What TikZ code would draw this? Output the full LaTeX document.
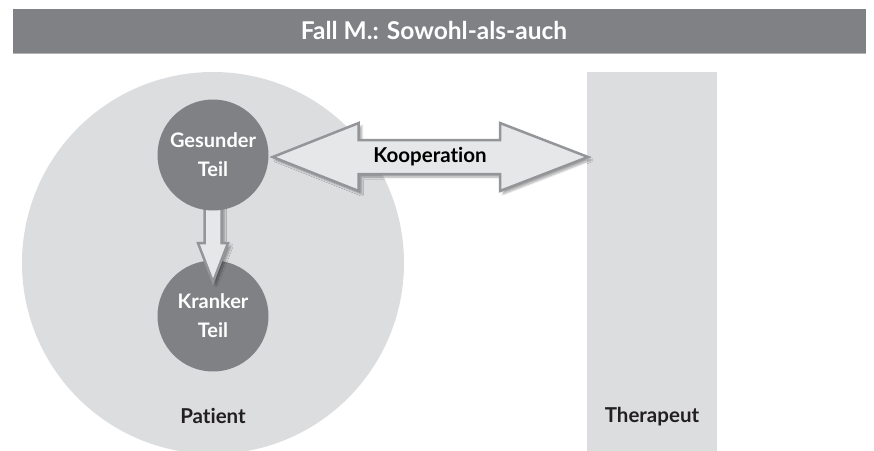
\documentclass[tikz,border=0pt]{standalone}
\usepackage{fontspec}
\setmainfont{Lato}[Ligatures=NoCommon]
\usetikzlibrary{calc,shadows.blur}
\definecolor{bargray}{HTML}{808184}
\definecolor{lightbg}{HTML}{DCDDDF}
\definecolor{arrowfill}{HTML}{E6E7E8}
\definecolor{arrowline}{HTML}{949598}
\definecolor{txtdark}{HTML}{231F20}
\tikzset{
  part/.style={circle, fill=bargray, minimum size=111pt, inner sep=0pt, text=white, align=center, font=\bfseries\fontsize{20}{29}\selectfont},
  blockarrow/.style={fill=arrowfill, draw=arrowline, line width=2.5pt, line join=miter,
     blur shadow={shadow xshift=3pt, shadow yshift=-3pt, shadow blur steps=6, shadow opacity=35}},
  lbl/.style={text=txtdark, font=\bfseries\fontsize{20.5}{24}\selectfont},
}
\begin{document}
\begin{tikzpicture}[x=1pt, y=-1pt]
\useasboundingbox (0,0) rectangle (874,450);
\begin{scope}
\clip (0,0) rectangle (874,450);
% title bar
\fill[bargray] (13,9) rectangle (866,53);
\draw[color=black!30, line width=1pt] (13,53) -- (866,53);
\node[text=white, font=\bfseries\fontsize{24.5}{28}\selectfont] (title) at (434,30.5) {Fall M.: Sowohl-als-auch};
% patient circle
\node[circle, fill=lightbg, minimum size=382pt, inner sep=0pt] (patient) at (213,263) {};
% therapeut column
\fill[lightbg] (587,72) rectangle (717,460);
\coordinate (therw) at (588,157);
\node[lbl] (ther) at (652,417) {Therapeut};
\node[lbl] (patlbl) at (213,416) {Patient};
% small circles
\node[part] (krank) at (213,316) {Kranker\\Teil};
\coordinate (gc) at (213,155);
% down arrow
\draw[blockarrow] ($(gc)+(-8.5,0)$) -- ($(gc)+(-8.5,88)$) -- ($(gc)+(-15,88)$) -- ($(gc)+(0,127)$) -- ($(gc)+(15,88)$) -- ($(gc)+(8.5,88)$) -- ($(gc)+(8.5,0)$) -- cycle;
\node[part] (gesund) at (gc) {Gesunder\\Teil};
% double arrow
\coordinate (lt) at ($(gesund.east)+(4,2)$);
\draw[blockarrow] (lt) -- ($(lt)+(86,-34)$) -- ($(lt)+(86,-17)$) -- ($(therw)+(-88,-17)$) -- ($(therw)+(-88,-34)$) -- (therw) -- ($(therw)+(-88,34)$) -- ($(therw)+(-88,17)$) -- ($(lt)+(86,17)$) -- ($(lt)+(86,34)$) -- cycle;
\node[text=black, font=\bfseries\fontsize{20.5}{24}\selectfont] (koop) at (430,157) {Kooperation};
\end{scope}
\end{tikzpicture}
\end{document}
